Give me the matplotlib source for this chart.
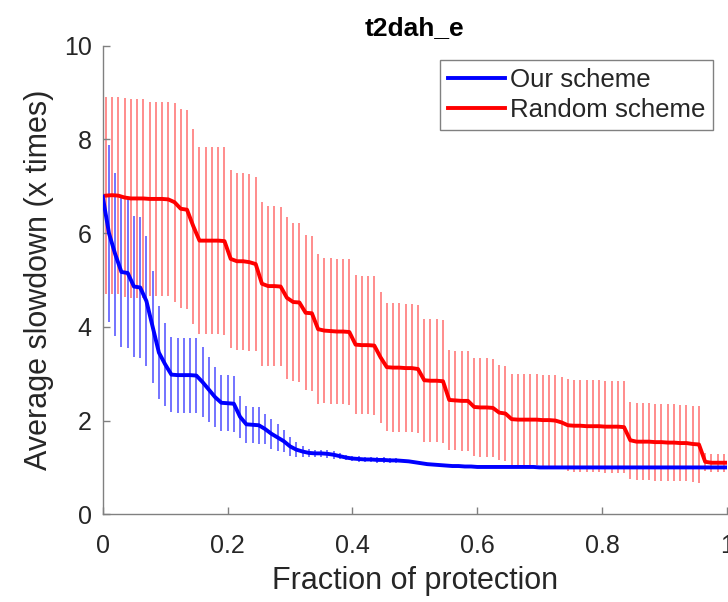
import numpy as np
import matplotlib
matplotlib.use("Agg")
import matplotlib.pyplot as plt

# fraction of protection (x), one point per 1%
frac = np.linspace(0, 1, 101)
red_shift = 0.005  # random scheme is drawn half a step to the right

our_mean = [6.78, 6.00, 5.55, 5.17, 5.15, 4.86, 4.84, 4.55, 4.00, 3.45,
            3.20, 2.98, 2.97, 2.97, 2.97, 2.96, 2.82, 2.66, 2.50, 2.38,
            2.37, 2.36, 2.08, 1.92, 1.91, 1.90, 1.82, 1.72, 1.64, 1.56,
            1.45, 1.38, 1.34, 1.31, 1.30, 1.30, 1.29, 1.27, 1.24, 1.21,
            1.19, 1.18, 1.17, 1.17, 1.16, 1.16, 1.15, 1.15, 1.14, 1.13,
            1.11, 1.09, 1.07, 1.06, 1.05, 1.04, 1.03, 1.03, 1.02, 1.02,
            1.01, 1.01, 1.01, 1.01, 1.01, 1.01, 1.01, 1.01, 1.01, 1.01,
            1.00, 1.00, 1.00, 1.00, 1.00, 1.00, 1.00, 1.00, 1.00, 1.00,
            1.00, 1.00, 1.00, 1.00, 1.00, 1.00, 1.00, 1.00, 1.00, 1.00,
            1.00, 1.00, 1.00, 1.00, 1.00, 1.00, 1.00, 1.00, 1.00, 1.00,
            1.00]
our_err = [2.13, 1.89, 1.74, 1.61, 1.61, 1.50, 1.50, 1.39, 1.20, 1.00,
           0.89, 0.80, 0.80, 0.80, 0.80, 0.80, 0.75, 0.70, 0.64, 0.60,
           0.60, 0.60, 0.45, 0.39, 0.39, 0.39, 0.33, 0.32, 0.28, 0.24,
           0.20, 0.16, 0.12, 0.08, 0.08, 0.08, 0.08, 0.08, 0.06, 0.06,
           0.06, 0.06, 0.06, 0.06, 0.06, 0.06, 0.05, 0.05, 0.03, 0.03,
           0.03, 0.03, 0.03, 0.03, 0.03, 0.03, 0.02, 0.02, 0.02, 0.02,
           0.01, 0.01, 0.01, 0.01, 0.01, 0.01, 0.01, 0.01, 0.01, 0.01,
           0.00, 0.00, 0.00, 0.00, 0.00, 0.00, 0.00, 0.00, 0.00, 0.00,
           0.00, 0.00, 0.00, 0.00, 0.00, 0.00, 0.00, 0.00, 0.00, 0.00,
           0.00, 0.00, 0.00, 0.00, 0.00, 0.00, 0.00, 0.00, 0.00, 0.00,
           0.00]

rand_mean = [6.80, 6.81, 6.80, 6.76, 6.74, 6.74, 6.74, 6.73, 6.73, 6.73,
             6.72, 6.66, 6.52, 6.50, 6.15, 5.84, 5.84, 5.84, 5.84, 5.83,
             5.45, 5.40, 5.40, 5.38, 5.34, 4.92, 4.87, 4.87, 4.86, 4.62,
             4.53, 4.52, 4.30, 4.29, 3.95, 3.92, 3.91, 3.90, 3.90, 3.89,
             3.62, 3.61, 3.61, 3.60, 3.35, 3.14, 3.13, 3.13, 3.12, 3.12,
             3.10, 2.86, 2.85, 2.85, 2.84, 2.44, 2.43, 2.42, 2.42, 2.29,
             2.28, 2.28, 2.27, 2.17, 2.15, 2.03, 2.02, 2.02, 2.02, 2.02,
             2.01, 2.01, 2.00, 1.96, 1.90, 1.89, 1.89, 1.88, 1.88, 1.88,
             1.87, 1.87, 1.87, 1.86, 1.58, 1.55, 1.55, 1.55, 1.54, 1.54,
             1.53, 1.53, 1.52, 1.52, 1.50, 1.49, 1.12, 1.10, 1.10, 1.10,
             1.10]
rand_err = [2.10, 2.10, 2.10, 2.12, 2.12, 2.12, 2.12, 2.07, 2.07, 2.07,
            2.07, 2.12, 2.12, 2.12, 2.08, 2.00, 2.00, 2.00, 2.00, 2.00,
            1.90, 1.89, 1.89, 1.89, 1.85, 1.75, 1.70, 1.70, 1.70, 1.73,
            1.69, 1.69, 1.65, 1.65, 1.60, 1.55, 1.55, 1.55, 1.55, 1.55,
            1.48, 1.48, 1.48, 1.48, 1.40, 1.37, 1.37, 1.37, 1.37, 1.37,
            1.37, 1.31, 1.31, 1.31, 1.31, 1.06, 1.06, 1.06, 1.06, 1.05,
            1.05, 1.05, 1.05, 1.02, 1.02, 0.97, 0.97, 0.97, 0.97, 0.97,
            0.97, 0.97, 0.97, 0.96, 0.98, 0.98, 0.98, 0.98, 0.98, 0.98,
            0.98, 0.98, 0.98, 0.98, 0.82, 0.82, 0.82, 0.82, 0.82, 0.82,
            0.82, 0.82, 0.82, 0.82, 0.82, 0.82, 0.19, 0.19, 0.19, 0.19,
            0.19]

plt.rcParams['font.family'] = ['Liberation Sans', 'DejaVu Sans']
txt = '#262626'

fig = plt.figure(figsize=(7.28, 6.02), dpi=100)
ax = fig.add_axes([0.1411, 0.1457, 0.8576, 0.7784])

rx = frac + red_shift
ax.errorbar(rx, rand_mean, yerr=rand_err, fmt='none', ecolor=(1, 0, 0, 0.45),
            elinewidth=1.4, capsize=0, zorder=1)
ax.errorbar(frac, our_mean, yerr=our_err, fmt='none', ecolor=(0, 0, 1, 0.55),
            elinewidth=1.4, capsize=0, zorder=2)
ax.plot(rx, rand_mean, color=(1, 0, 0), lw=2.8, label='Random scheme', zorder=3)
ax.plot(frac, our_mean, color=(0, 0, 1), lw=2.8, label='Our scheme', zorder=4)

ax.set_xlim(0, 1)
ax.set_ylim(0, 10)
ax.set_xticks([0, 0.2, 0.4, 0.6, 0.8, 1])
ax.set_xticklabels(['0', '0.2', '0.4', '0.6', '0.8', '1'])
ax.set_yticks([0, 2, 4, 6, 8, 10])

for s in ['top', 'right']:
    ax.spines[s].set_visible(False)
for s in ['left', 'bottom']:
    ax.spines[s].set_color('#808080')
    ax.spines[s].set_linewidth(1.0)
ax.tick_params(direction='in', length=5, width=1.0, color='#808080',
               labelsize=18, labelcolor=txt, pad=8)
ax.tick_params(axis='x', pad=14)

ax.set_xlabel('Fraction of protection', fontsize=22, color=txt, labelpad=6)
ax.set_ylabel('Average slowdown (x times)', fontsize=22, color=txt, labelpad=7)
ax.set_title('t2dah_e', fontsize=19, fontweight='bold', color='black', pad=8)

h, l = ax.get_legend_handles_labels()
leg = ax.legend(h[::-1], l[::-1], loc='upper right', bbox_to_anchor=(0.978, 0.9695),
                borderaxespad=0, fontsize=18.6, fancybox=False, framealpha=1,
                edgecolor='#808080', handlelength=2.2, handletextpad=0.2,
                borderpad=0.3, labelspacing=0.25)
leg.get_frame().set_linewidth(1.0)
for t in leg.get_texts():
    t.set_color(txt)

fig.savefig('out.png', dpi=100)
